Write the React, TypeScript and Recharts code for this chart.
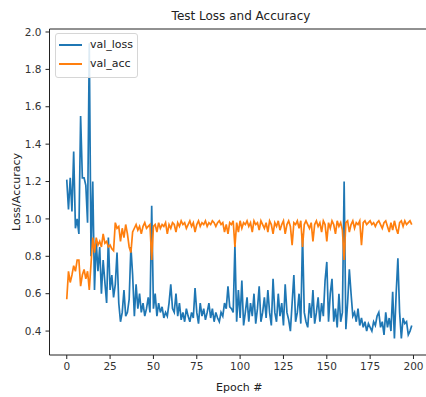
import { LineChart, Line, XAxis, YAxis, Legend, ReferenceLine, Customized } from "recharts";

const LOSS_COLOR = "#1f77b4";
const ACC_COLOR = "#ff7f0e";
const FONT = "'DejaVu Sans', sans-serif";

const valLoss = [
  1.21, 1.05, 1.22, 1.04, 1.36, 0.95, 1.0, 0.92, 1.55, 1.22,
  1.22, 1.18, 0.98, 1.94, 0.8, 1.2, 0.62, 0.88, 0.72, 0.85,
  0.6, 0.78, 0.66, 0.55, 0.9, 0.62, 0.7, 0.58, 0.65, 0.82,
  0.55, 0.45, 0.5, 0.62, 0.48, 0.5, 0.57, 0.85, 0.7, 0.48,
  0.65, 0.52, 0.6, 0.5, 0.55, 0.48, 0.52, 0.58, 0.5, 1.07,
  0.52, 0.6, 0.48, 0.55, 0.5, 0.53, 0.47, 0.5, 0.48, 0.55,
  0.65, 0.52, 0.5, 0.6, 0.48, 0.55, 0.46, 0.5, 0.45, 0.52,
  0.48, 0.45, 0.5, 0.47, 0.63, 0.5, 0.44, 0.55, 0.48, 0.52,
  0.46, 0.5, 0.55, 0.47, 0.52, 0.45, 0.5, 0.47, 0.45, 0.5,
  0.48, 0.55, 0.52, 0.64, 0.53, 0.52, 0.5, 0.86, 0.45, 0.62,
  0.47, 0.67, 0.43, 0.5, 0.58, 0.45, 0.55, 0.48, 0.6, 0.44,
  0.52, 0.64, 0.45, 0.5, 0.58, 0.47, 0.62, 0.5, 0.43, 0.68,
  0.5, 0.45, 0.6, 0.48, 0.55, 0.43, 0.65, 0.5, 0.46, 0.4,
  0.55, 0.7, 0.45, 0.5, 0.6, 0.44, 0.92, 0.5, 0.45, 0.42,
  0.55, 0.47, 0.62, 0.44, 0.5, 0.58, 0.45, 0.55, 0.48, 0.67,
  0.77, 0.45, 0.6, 0.68, 0.45, 0.52, 0.42, 0.6, 0.45, 0.5,
  1.2, 0.41, 0.55, 0.73, 0.6, 0.48, 0.5, 0.45, 0.52, 0.43,
  0.47, 0.42, 0.45, 0.4, 0.44, 0.42, 0.4, 0.45, 0.43, 0.48,
  0.5, 0.42, 0.45, 0.38, 0.5, 0.42, 0.47, 0.4, 0.61, 0.36,
  0.6, 0.79, 0.5, 0.36, 0.47, 0.44, 0.45, 0.38, 0.4, 0.43,
];

const valAcc = [
  0.57, 0.72, 0.66, 0.7, 0.75, 0.72, 0.78, 0.78, 0.64, 0.7,
  0.73, 0.68, 0.72, 0.62, 0.76, 0.9, 0.82, 0.9, 0.86, 0.88,
  0.85, 0.92, 0.87, 0.88, 0.85, 0.86, 0.84, 0.83, 0.98, 0.95,
  0.96, 0.88, 0.95, 0.9, 0.97, 0.92, 0.85, 0.82, 0.93, 0.95,
  0.97, 0.94, 0.96, 0.92, 0.96, 0.98, 0.95, 0.96, 0.97, 0.78,
  0.96, 0.97, 0.93, 0.98, 0.95, 0.97, 0.96, 0.98, 0.92, 0.97,
  0.95, 0.98, 0.97, 0.93, 0.98, 0.96, 0.99, 0.97, 0.98, 0.95,
  0.97, 0.99, 0.96, 0.98, 0.93, 0.97, 0.99, 0.96, 0.98, 0.97,
  0.99, 0.96, 0.98, 0.97, 0.99, 0.98, 0.96, 0.98, 0.99, 0.97,
  0.98, 0.93, 0.97, 0.92, 0.98, 0.97, 0.99, 0.85, 0.98, 0.93,
  0.99, 0.95, 0.98, 0.97, 0.99, 0.96, 0.98, 0.93, 0.99, 0.97,
  0.98, 0.94, 0.99, 0.97, 0.95, 0.98, 0.93, 0.99, 0.97, 0.92,
  0.98, 0.96, 0.99, 0.94, 0.97, 0.99, 0.92, 0.97, 0.99, 0.96,
  0.86, 0.98, 0.97, 0.99, 0.95, 0.99, 0.85, 0.97, 0.99, 0.97,
  0.95, 0.98, 0.88, 0.97, 0.99, 0.96, 0.98, 0.93, 0.99, 0.97,
  0.88, 0.98, 0.95, 0.99, 0.97, 0.92, 0.99, 0.96, 0.98, 0.94,
  0.78, 0.98, 0.99, 0.93, 0.97, 0.99, 0.95, 0.98, 0.97, 0.99,
  0.86, 0.98, 0.99, 0.97, 0.98, 0.99, 0.97, 0.98, 0.96, 0.98,
  0.99, 0.97, 0.95, 0.98, 0.99, 0.96, 0.93, 0.98, 0.94, 0.99,
  0.95, 0.92, 0.98, 0.99, 0.96, 0.99, 0.97, 0.98, 0.99, 0.97,
];

const epochTicks = [0, 25, 50, 75, 100, 125, 150, 175, 200];
const yTicks = [0.4, 0.6, 0.8, 1.0, 1.2, 1.4, 1.6, 1.8, 2.0];

const X_DOMAIN = [-9.95, 208.95];
const Y_DOMAIN = [0.272, 2.016];

const data = valLoss.map((v, i) => ({ epoch: i, val_loss: v, val_acc: valAcc[i] }));

const legendItems = [
  { name: "val_loss", color: LOSS_COLOR },
  { name: "val_acc", color: ACC_COLOR },
];

const LegendBox = () => (
  <div
    style={{
      border: "1px solid #d6d6d6",
      borderRadius: 3,
      background: "rgba(255,255,255,0.85)",
      padding: "1px 4px 4px 3px",
      fontFamily: FONT,
      fontSize: 11,
      color: "#222",
    }}
  >
    {legendItems.map((it) => (
      <div key={it.name} style={{ display: "flex", alignItems: "center", height: 19 }}>
        <div style={{ width: 23, height: 2, background: it.color, marginRight: 8 }} />
        <span>{it.name}</span>
      </div>
    ))}
  </div>
);

const Texts = () => (
  <g fontFamily={FONT} fill="#222">
    <text x={241} y={20} textAnchor="middle" fontSize={12}>
      Test Loss and Accuracy
    </text>
    <text
      x={16}
      y={192}
      textAnchor="middle"
      dominantBaseline="central"
      fontSize={11}
      transform="rotate(-90 16 192)"
    >
      Loss/Accuracy
    </text>
  </g>
);

export default function App() {
  const tickStyle = { fontSize: 10.5, fill: "#333", fontFamily: FONT };
  return (
    <div
      style={{
        position: "absolute",
        left: 0,
        top: 0,
        width: 426,
        height: 397,
        overflow: "hidden",
        background: "#fff",
      }}
    >
      <LineChart
        width={440}
        height={397}
        data={data}
        margin={{ top: 29, right: 11, bottom: 0, left: 0.5 }}
      >
        <XAxis
          dataKey="epoch"
          type="number"
          domain={X_DOMAIN}
          ticks={epochTicks}
          allowDataOverflow
          height={42}
          tick={tickStyle}
          tickSize={4}
          tickMargin={4}
          stroke="#222"
          label={{ value: "Epoch #", position: "insideBottom", offset: 6, fontSize: 11, fill: "#222", fontFamily: FONT }}
        />
        <YAxis
          type="number"
          domain={Y_DOMAIN}
          ticks={yTicks}
          allowDataOverflow
          width={49}
          tick={tickStyle}
          tickSize={4}
          tickMargin={4}
          stroke="#222"
          tickFormatter={(v: number) => v.toFixed(1)}
        />
        <ReferenceLine y={Y_DOMAIN[1]} stroke="#222" ifOverflow="visible" />
        <Line
          dataKey="val_loss"
          stroke={LOSS_COLOR}
          strokeWidth={1.7}
          dot={false}
          isAnimationActive={false}
        />
        <Line
          dataKey="val_acc"
          stroke={ACC_COLOR}
          strokeWidth={1.7}
          dot={false}
          isAnimationActive={false}
        />
        <Legend
          layout="horizontal"
          verticalAlign="middle"
          align="center"
          content={<LegendBox />}
          wrapperStyle={{ position: "absolute", left: 55, top: 33, width: "auto", height: "auto" }}
        />
        <Customized component={<Texts />} />
      </LineChart>
    </div>
  );
}
